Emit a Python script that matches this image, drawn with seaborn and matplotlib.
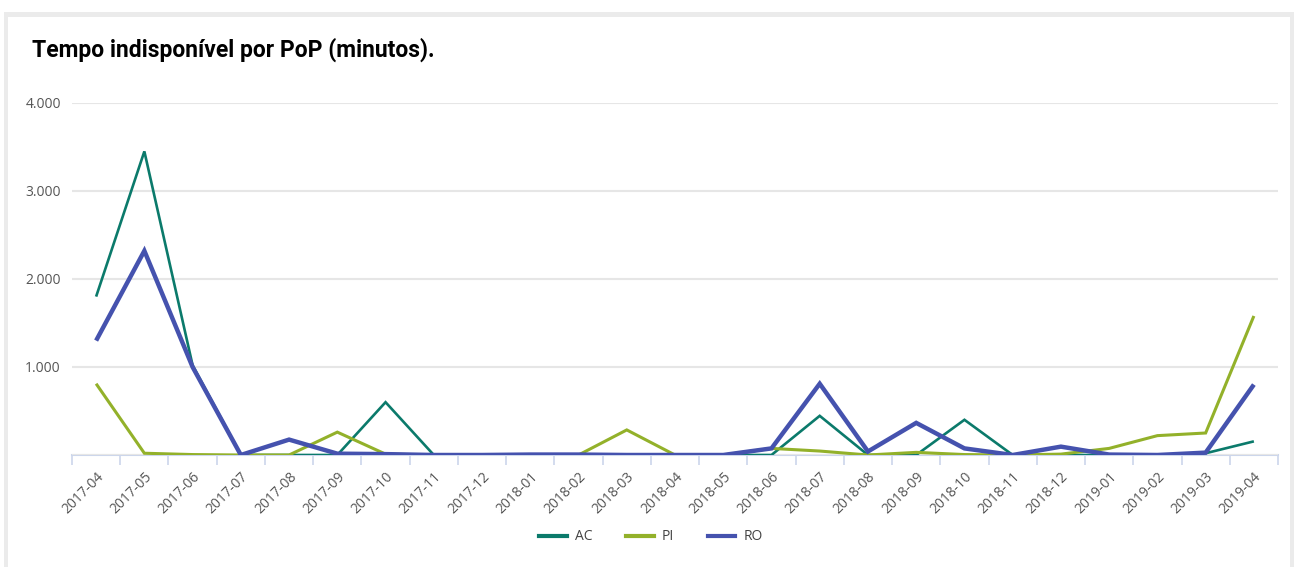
import pandas as pd
import seaborn as sns
import matplotlib.pyplot as plt
from matplotlib.patches import Rectangle
from matplotlib.lines import Line2D
from matplotlib.ticker import FuncFormatter, FixedLocator

# Meses e minutos indisponíveis por PoP
meses = ['2017-04', '2017-05', '2017-06', '2017-07', '2017-08', '2017-09', '2017-10',
         '2017-11', '2017-12', '2018-01', '2018-02', '2018-03', '2018-04', '2018-05',
         '2018-06', '2018-07', '2018-08', '2018-09', '2018-10', '2018-11', '2018-12',
         '2019-01', '2019-02', '2019-03', '2019-04']
ac = [1800, 3450, 1020, 0, 0, 0, 600, 0, 0, 0, 0, 0, 0, 0,
      0, 445, 0, 0, 400, 0, 0, 0, 0, 20, 155]
pi = [810, 20, 5, 0, 0, 260, 10, 0, 0, 0, 0, 285, 0, 0,
      75, 45, 0, 30, 5, 0, 10, 75, 220, 250, 1580]
ro = [1300, 2320, 1000, 0, 175, 15, 10, 0, 0, 5, 5, 0, 0, 0,
      75, 810, 40, 365, 75, 0, 95, 5, 0, 27, 800]
pops = ['AC', 'PI', 'RO']
cores = {'AC': '#0b7a6b', 'PI': '#93b12a', 'RO': '#4552ae'}
larguras = {'AC': 1.9, 'PI': 2.2, 'RO': 3.2}

df = pd.DataFrame({'mes': meses * 3,
                   'minutos': ac + pi + ro,
                   'PoP': ['AC'] * len(meses) + ['PI'] * len(meses) + ['RO'] * len(meses)})
df['pos'] = list(range(len(meses))) * 3

fig = plt.figure(figsize=(12.94, 5.67), dpi=100)
fig.patch.set_facecolor('white')
# moldura cinza do cartão
fig.add_artist(Rectangle((4 / 1294, 0), 1290 / 1294, 555 / 567, transform=fig.transFigure,
                         facecolor='#ebebeb', edgecolor='none', zorder=-2))
fig.add_artist(Rectangle((8 / 1294, 0), 1282 / 1294, 550 / 567, transform=fig.transFigure,
                         facecolor='white', edgecolor='none', zorder=-1))

ax = fig.add_axes([72 / 1294, 112 / 567, 1206 / 1294, 352 / 567])
ax.set_facecolor('none')

sns.lineplot(data=df, x='pos', y='minutos', hue='PoP', size='PoP',
             palette=cores, sizes=larguras, hue_order=pops, size_order=pops,
             legend=False, ax=ax, solid_joinstyle='miter', solid_capstyle='butt')

ax.set_xlim(-0.5, len(meses) - 0.5)
ax.set_ylim(0, 4000)
ax.set_yticks([0, 1000, 2000, 3000, 4000])
ax.yaxis.set_major_formatter(FuncFormatter(lambda v, p: '' if v == 0 else f'{int(v):,}'.replace(',', '.')))
ax.grid(axis='y', color='#e6e6e6', linewidth=1.5)
ax.set_axisbelow(True)
for s in ['top', 'right', 'left']:
    ax.spines[s].set_visible(False)
ax.spines['bottom'].set_color('#ccd6eb')
ax.spines['bottom'].set_linewidth(1.5)
ax.spines['bottom'].set_zorder(0)

ax.set_xticks(range(len(meses)))
ax.set_xticklabels(meses, rotation=45, ha='right', rotation_mode='anchor',
                   fontsize=10, color='#555555', family='Open Sans')
ax.xaxis.set_minor_locator(FixedLocator([i - 0.5 for i in range(len(meses) + 1)]))
ax.tick_params(axis='x', which='major', length=0, pad=10)
ax.tick_params(axis='x', which='minor', length=7, width=1.2, color='#ccd6eb')
ax.tick_params(axis='y', length=0, pad=8, labelsize=10, labelcolor='#555555')
for t in ax.get_yticklabels():
    t.set_family('Open Sans')
ax.set_xlabel('')
ax.set_ylabel('')

fig.text(32 / 1294, 1 - 50 / 567, 'Tempo indisponível por PoP (minutos).',
         fontsize=16.5, fontweight='bold', family='Roboto', color='black', va='center')

handles = [Line2D([], [], color=cores[p], linewidth=3) for p in pops]
fig.legend(handles, pops, loc='center', bbox_to_anchor=(651 / 1294, 1 - 537 / 567),
           ncol=3, frameon=False, handlelength=2.0, handletextpad=0.6, columnspacing=2.4,
           prop={'family': 'Open Sans', 'size': 10}, labelcolor='#444444')

fig.savefig('out.png', dpi=100)
